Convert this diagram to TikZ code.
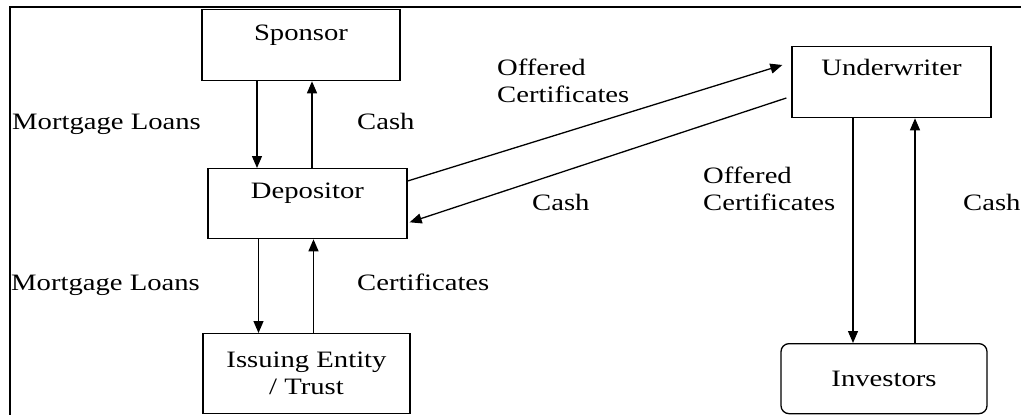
\documentclass[tikz,border=0pt]{standalone}
\usepackage{fontspec}
\setmainfont{Liberation Serif}[FakeStretch=1.22]
\usetikzlibrary{arrows.meta}

\tikzset{
  box/.style={draw, line width=1.3pt, inner sep=0pt},
  flow/.style={line width=1.3pt, ->},
  tag/.style={inner sep=0pt, anchor=base west, align=left}
}

\begin{document}
\begin{tikzpicture}[x=1pt, y=-1pt, >={Triangle[length=12pt,width=10pt]},
  font=\fontsize{23.5}{27}\selectfont]

\useasboundingbox (0,0) rectangle (1021,415);
\draw[line width=1.5pt] (10,415) -- (10,7) -- (1021,7);

\node[box, minimum width=198pt, text height=31pt, text depth=40pt, anchor=north] (sponsor) at (301,9) {Sponsor};
\node[box, minimum width=199pt, text height=30pt, text depth=40pt, anchor=north] (depositor) at (307.5,168) {Depositor};
\node[box, minimum width=199pt, text height=29pt, text depth=42pt, anchor=north] (underwriter) at (891.5,46) {Underwriter};
\node[box, minimum width=207pt, minimum height=80pt, align=center, anchor=north] (issuing) at (306.5,333) {Issuing Entity\\/ Trust};
\node[box, minimum width=206pt, minimum height=70pt, rounded corners=8pt, anchor=north] (investors) at (884,343) {Investors};

\draw[flow] ([xshift=-44pt]sponsor.south) -- ([xshift=-44pt]sponsor.south |- depositor.north);
\draw[flow] ([xshift=4.5pt]depositor.north) -- ([xshift=4.5pt]depositor.north |- sponsor.south);
\draw[flow] ([xshift=-49pt]depositor.south) -- ([xshift=-49pt]depositor.south |- issuing.north);
\draw[flow] ([xshift=7pt]issuing.north) -- ([xshift=7pt]issuing.north |- depositor.south);

\draw[flow] ([yshift=-13pt]depositor.north east) -- ([xshift=-9pt,yshift=-19pt]underwriter.north west);
\draw[flow] ([xshift=-5pt,yshift=-52pt]underwriter.north west) -- ([xshift=2pt,yshift=17pt]depositor.south east);

\draw[flow] ([xshift=-38.5pt]underwriter.south) -- ([xshift=-38.5pt]underwriter.south |- investors.north);
\draw[flow] ([xshift=23.5pt]underwriter.south |- investors.north) -- ([xshift=23.5pt]underwriter.south);

\node[tag] (loans1) at (12,129) {Mortgage Loans};
\node[tag] (cash1) at (357,129) {Cash};
\node[tag] (loans2) at (11,290) {Mortgage Loans};
\node[tag] (certs) at (357,290) {Certificates};
\node[tag] (offered1) at (497,102) {Offered\\Certificates};
\node[tag] (cash2) at (532,210) {Cash};
\node[tag] (offered2) at (703,210) {Offered\\Certificates};
\node[tag] (cash3) at (963,210) {Cash};

\end{tikzpicture}
\end{document}
